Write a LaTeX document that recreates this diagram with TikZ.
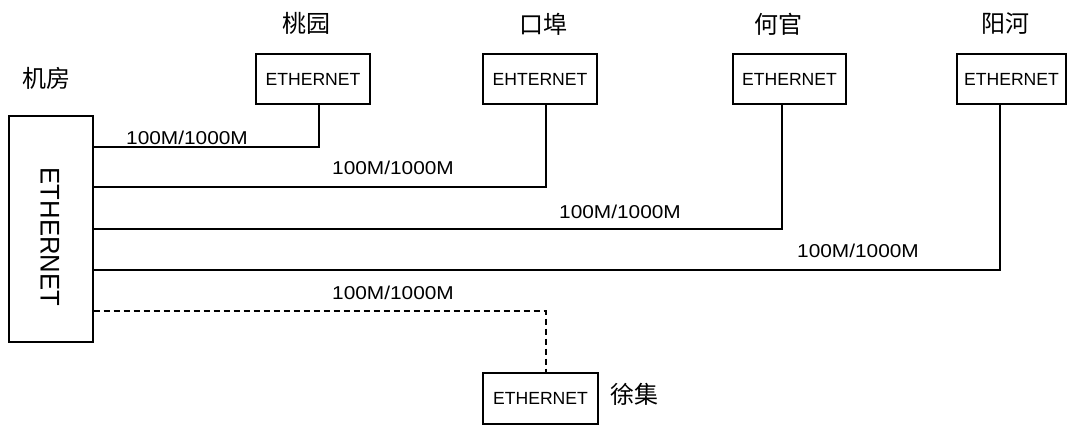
\documentclass[tikz,border=0pt]{standalone}
\usepackage{fontspec}
\setmainfont{Liberation Sans}
\newfontfamily\cjk{Noto Sans CJK SC}
\begin{document}
\begin{tikzpicture}[x=1pt,y=-1pt,
  sw/.style={draw=black,line width=1.2pt,inner sep=0pt,minimum height=50pt,
    font=\fontsize{17.6}{18}\selectfont},
  conn/.style={draw=black,line width=1.2pt},
  dconn/.style={conn,dash pattern=on 6pt off 4pt},
  speed/.style={inner sep=0pt,font=\fontsize{18.6}{19}\selectfont},
  site/.style={inner sep=0pt,font=\cjk\fontsize{24}{25}\selectfont}]
\useasboundingbox (0,0) rectangle (1068,425);
% main switch
\node[draw=black,line width=1.2pt,minimum width=84pt,minimum height=226pt,inner sep=0pt] (main) at (51,229) {};
\node[inner sep=0pt,rotate=-90,font=\fontsize{27}{27}\selectfont] (maintxt) at (50,237) {\scalebox{0.95}[1]{ETHERNET}};
\node[site] (lmain) at (47,78) {机房};
% remote switches
\node[sw,minimum width=114pt] (b1) at (313,79) {ETHERNET};
\node[sw,minimum width=114pt] (b2) at (540,79) {EHTERNET};
\node[sw,minimum width=113pt] (b3) at (789.5,79) {ETHERNET};
\node[sw,minimum width=109pt] (b4) at (1011.5,79) {ETHERNET};
\node[sw,minimum width=115pt,minimum height=51pt] (b5) at (540.5,398.5) {ETHERNET};
% site labels
\node[site] (l1) at (306,23) {桃园};
\node[site] (l2) at (543,24) {口埠};
\node[site] (l3) at (778,24) {何官};
\node[site] (l4) at (1005,24) {阳河};
\node[site] (l5) at (634,394) {徐集};
% connectors
\draw[conn] (main.east |- 0,147) -| (b1.south -| 319,0);
\draw[conn] (main.east |- 0,187) -| (b2.south -| 546,0);
\draw[conn] (main.east |- 0,229) -| (b3.south -| 782,0);
\draw[conn] (main.east |- 0,270) -| (b4.south -| 1000,0);
\draw[dconn] (main.east |- 0,311) -| (b5.north -| 546,0);
% speed labels
\node[speed] (s1) at (187,138) {\scalebox{1.12}[1]{100M/1000M}};
\node[speed] (s2) at (393,168) {\scalebox{1.12}[1]{100M/1000M}};
\node[speed] (s3) at (620,212) {\scalebox{1.12}[1]{100M/1000M}};
\node[speed] (s4) at (858,251) {\scalebox{1.12}[1]{100M/1000M}};
\node[speed] (s5) at (393,293) {\scalebox{1.12}[1]{100M/1000M}};
\end{tikzpicture}
\end{document}
